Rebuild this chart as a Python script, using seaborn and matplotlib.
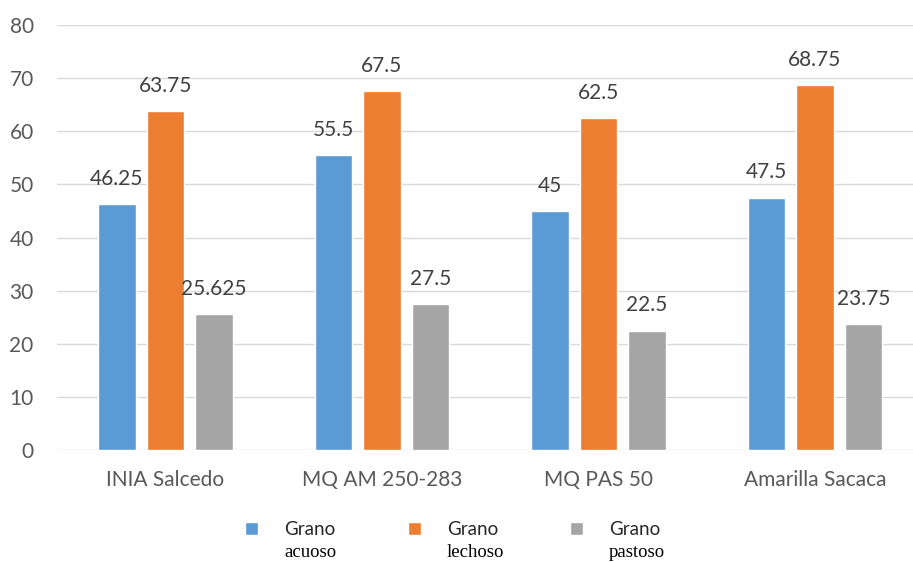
import pandas as pd
import matplotlib.pyplot as plt
import seaborn as sns
from matplotlib.patches import Patch

# Datos del gráfico
variedades = ['INIA Salcedo', 'MQ AM 250-283', 'MQ PAS 50', 'Amarilla Sacaca']
acuoso = [46.25, 55.5, 45, 47.5]
lechoso = [63.75, 67.5, 62.5, 68.75]
pastoso = [25.625, 27.5, 22.5, 23.75]
estados = ['acuoso', 'lechoso', 'pastoso']
colores = ['#5B9BD5', '#ED7D31', '#A5A5A5']

df = pd.DataFrame({
    'variedad': variedades * 3,
    'estado': [e for e in estados for _ in variedades],
    'valor': acuoso + lechoso + pastoso,
})

sns.set_style('white')
plt.rcParams['font.family'] = ['Lato', 'DejaVu Sans']

fig = plt.figure(figsize=(9.13, 5.62), dpi=100)
ax = fig.add_axes([0.0627, 0.199, 0.9485, 0.7565])

sns.barplot(data=df, x='variedad', y='valor', hue='estado', hue_order=estados,
            palette=colores, width=0.673, gap=0.23, saturation=1, legend=False,
            errorbar=None, ax=ax)

# Etiquetas de valores
for cont, serie in zip(ax.containers, [acuoso, lechoso, pastoso]):
    ax.bar_label(cont, labels=['{:g}'.format(v) for v in serie], padding=11,
                 fontsize=15, color='#404040')

ax.set_ylim(0, 80)
ax.set_yticks(range(0, 81, 10))
ax.set_xlim(-0.5, 3.5)
ax.yaxis.grid(True, color='#D9D9D9', linewidth=1)
ax.set_axisbelow(True)
for s in ax.spines.values():
    s.set_visible(False)
ax.tick_params(axis='both', length=0, labelsize=15, labelcolor='#595959')
ax.tick_params(axis='x', pad=14)
ax.tick_params(axis='y', pad=17)
ax.set_xlabel('')
ax.set_ylabel('')

# Leyenda: primera línea sans, segunda en serif
handles = [Patch(facecolor=c) for c in colores]
leg = fig.legend(handles, ['Grano'] * 3, loc='center left',
                 bbox_to_anchor=(0.250, 0.057), ncol=3, frameon=False,
                 fontsize=13.5, handlelength=0.7, handleheight=0.7,
                 handletextpad=1.39, columnspacing=3.84)
fig.canvas.draw()
inv = fig.transFigure.inverted()
for t, e in zip(leg.get_texts(), estados):
    bb = t.get_window_extent()
    x0, y0 = inv.transform((bb.x0, bb.y0))
    fig.text(x0, y0 - 0.009, e, ha='left', va='top',
             family=['Liberation Serif'], fontsize=13.5, color='#000000')

plt.savefig('out.png', dpi=100)
